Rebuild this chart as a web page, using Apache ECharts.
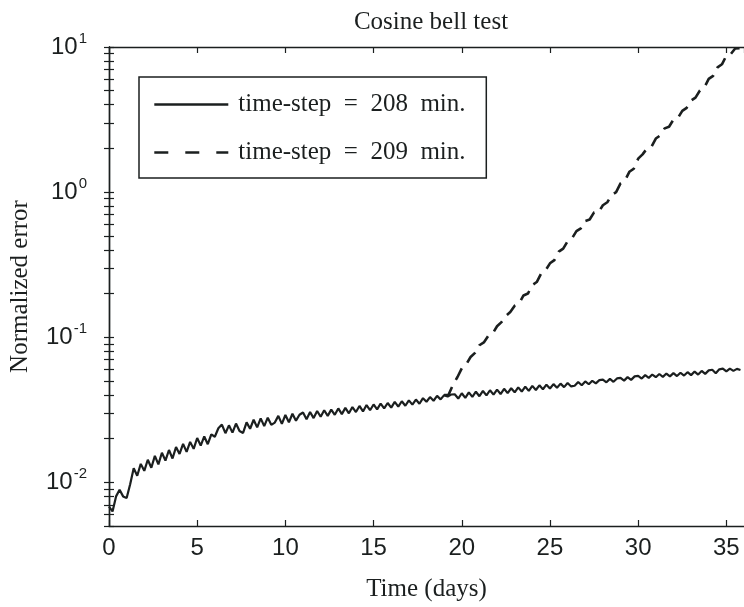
<!DOCTYPE html>
<html>
<head>
<meta charset="utf-8">
<script src="https://cdn.jsdelivr.net/npm/echarts@6/dist/echarts.min.js"></script>
<style>
  html, body { margin: 0; padding: 0; background: #ffffff; }
  #chart { width: 744px; height: 607px; }
</style>
</head>
<body>
<div id="chart"></div>
<script>
// Normalized error, time-step = 208 min: one reading every 0.2 day from day 0.
const startDay208 = 0;
const stepDays208 = 0.2;
const err208 = [
  0.0068, 0.0063, 0.0080, 0.0089, 0.0080,
  0.0078, 0.0097, 0.0125, 0.0111, 0.0134,
  0.0120, 0.0143, 0.0126, 0.0152, 0.0133,
  0.0160, 0.0141, 0.0167, 0.0146, 0.0175,
  0.0157, 0.0184, 0.0162, 0.0190, 0.0170,
  0.0202, 0.0179, 0.0207, 0.0183, 0.0214,
  0.0206, 0.0236, 0.0250, 0.0218, 0.0247,
  0.0220, 0.0254, 0.0226, 0.0219, 0.0259,
  0.0234, 0.0270, 0.0239, 0.0276, 0.0244,
  0.0279, 0.0249, 0.0258, 0.0287, 0.0253,
  0.0291, 0.0259, 0.0297, 0.0266, 0.0292,
  0.0303, 0.0272, 0.0305, 0.0277, 0.0310,
  0.0283, 0.0314, 0.0287, 0.0317, 0.0292,
  0.0323, 0.0295, 0.0326, 0.0299, 0.0330,
  0.0305, 0.0336, 0.0308, 0.0341, 0.0314,
  0.0344, 0.0318, 0.0349, 0.0323, 0.0352,
  0.0327, 0.0358, 0.0332, 0.0362, 0.0337,
  0.0367, 0.0343, 0.0372, 0.0348, 0.0380,
  0.0359, 0.0387, 0.0365, 0.0394, 0.0373,
  0.0399, 0.0390, 0.0403, 0.0404, 0.0378,
  0.0411, 0.0382, 0.0417, 0.0388, 0.0421,
  0.0392, 0.0426, 0.0397, 0.0431, 0.0402,
  0.0435, 0.0406, 0.0441, 0.0412, 0.0445,
  0.0417, 0.0451, 0.0422, 0.0456, 0.0427,
  0.0462, 0.0433, 0.0466, 0.0438, 0.0471,
  0.0443, 0.0475, 0.0449, 0.0479, 0.0453,
  0.0483, 0.0458, 0.0463, 0.0491, 0.0467,
  0.0496, 0.0474, 0.0501, 0.0481, 0.0506,
  0.0510, 0.0489, 0.0516, 0.0493, 0.0520,
  0.0525, 0.0502, 0.0531, 0.0508, 0.0537,
  0.0542, 0.0519, 0.0548, 0.0525, 0.0553,
  0.0530, 0.0558, 0.0533, 0.0562, 0.0537,
  0.0566, 0.0540, 0.0569, 0.0544, 0.0574,
  0.0548, 0.0580, 0.0553, 0.0586, 0.0559,
  0.0591, 0.0597, 0.0565, 0.0601, 0.0608,
  0.0581, 0.0607, 0.0586, 0.0605, 0.0595
];

// Normalized error, time-step = 209 min: one reading every 0.25 day from day 19,
// where it leaves the 208 min run.
const startDay209 = 19;
const stepDays209 = 0.25;
const err209 = [
  0.0399, 0.0401, 0.047, 0.053, 0.061, 0.065, 0.073, 0.078,
  0.088, 0.092, 0.102, 0.106, 0.119, 0.127, 0.140, 0.149,
  0.165, 0.171, 0.194, 0.200, 0.229, 0.240, 0.275, 0.289,
  0.323, 0.340, 0.389, 0.408, 0.458, 0.480, 0.538, 0.563,
  0.632, 0.647, 0.725, 0.726, 0.812, 0.852, 0.955, 1.00,
  1.15, 1.20, 1.38, 1.45, 1.70, 1.82, 2.00, 2.05,
  2.34, 2.46, 2.75, 2.82, 3.16, 3.24, 3.63, 3.81,
  4.27, 4.48, 5.01, 5.26, 6.03, 6.33, 7.24, 7.60,
  8.71, 8.94, 9.77, 9.80
];

const seriesNames = [
  'time-step\u2002=\u2002208\u2002min.',
  'time-step\u2002=\u2002209\u2002min.'
];

// Axis ranges and tick positions
const xRange = [0, 36];
const xTickInterval = 5;
const yRange = [0.005, 10];
const yLabelValues = [0.01, 0.1, 1, 10];
const yLabelExponents = ['-2', '-1', '0', '1'];
const yTickValues = [
  0.005, 0.006, 0.007, 0.008, 0.009,
  0.01, 0.02, 0.03, 0.04, 0.05, 0.06, 0.07, 0.08, 0.09,
  0.1, 0.2, 0.3, 0.4, 0.5, 0.6, 0.7, 0.8, 0.9,
  1, 2, 3, 4, 5, 6, 7, 8, 9, 10
];

function toPairs(values, startDay, stepDays) {
  return values.map((v, i) => [startDay + i * stepDays, v]);
}

const ink = '#1b1f1f';
const serif = '"Liberation Serif", "Times New Roman", serif';
const sans = '"Liberation Sans", Arial, sans-serif';

const tickStyle = { show: true, inside: true, length: 6, lineStyle: { color: ink, width: 1.2 } };
const lineAxis = { show: true, lineStyle: { color: ink, width: 1.4 } };

const chart = echarts.init(document.getElementById('chart'), null, { renderer: 'canvas' });

chart.setOption({
  animation: false,
  backgroundColor: '#ffffff',
  title: {
    text: 'Cosine bell test',
    left: 426,
    top: 5,
    textAlign: 'center',
    textStyle: { fontFamily: serif, fontSize: 25, fontWeight: 'normal', color: ink }
  },
  grid: { left: 105, top: 47, width: 645, height: 489, containLabel: false },
  legend: {
    orient: 'vertical',
    left: 139,
    top: 77,
    padding: [15, 14, 13, 14],
    itemWidth: 74,
    itemHeight: 20,
    itemGap: 23,
    borderColor: ink,
    borderWidth: 1.5,
    backgroundColor: '#ffffff',
    itemStyle: { opacity: 0 },
    lineStyle: { width: 2.6 },
    textStyle: {
      fontFamily: serif, fontSize: 25, color: ink,
      width: 234, lineHeight: 20, padding: [0, 0, 0, 5]
    },
    data: [
      { name: seriesNames[0] },
      { name: seriesNames[1], lineStyle: { type: [14, 17], width: 2.6 } }
    ]
  },
  xAxis: [
    {
      type: 'value', min: xRange[0], max: xRange[1], interval: xTickInterval,
      position: 'bottom',
      name: 'Time (days)', nameLocation: 'middle', nameGap: 51,
      nameTextStyle: { fontFamily: serif, fontSize: 25, color: ink },
      axisLine: lineAxis, axisTick: tickStyle, splitLine: { show: false },
      axisLabel: { fontFamily: sans, fontSize: 24, color: ink, margin: 10, showMaxLabel: false }
    },
    {
      type: 'value', min: xRange[0], max: xRange[1], interval: xTickInterval,
      position: 'top',
      axisLine: lineAxis, axisTick: tickStyle, splitLine: { show: false },
      axisLabel: { show: false }
    }
  ],
  yAxis: [
    {
      type: 'log', logBase: 10, min: yRange[0], max: yRange[1],
      position: 'left',
      name: 'Normalized error', nameLocation: 'middle', nameGap: 76,
      nameTextStyle: { fontFamily: serif, fontSize: 25, color: ink },
      axisLine: lineAxis,
      axisTick: Object.assign({}, tickStyle, { length: 5, customValues: yTickValues }),
      splitLine: { show: false },
      axisLabel: {
        customValues: yLabelValues,
        margin: 22,
        formatter: function (value) {
          let idx = 0, best = Infinity;
          yLabelValues.forEach((v, i) => {
            const d = Math.abs(Math.log10(v) - Math.log10(value));
            if (d < best) { best = d; idx = i; }
          });
          return '{b|10}{e|' + yLabelExponents[idx] + '}';
        },
        rich: {
          b: { fontFamily: sans, fontSize: 24, color: ink },
          e: { fontFamily: sans, fontSize: 15, color: ink, padding: [0, 0, 16, 1] }
        }
      }
    },
    {
      type: 'log', logBase: 10, min: yRange[0], max: yRange[1],
      position: 'right',
      axisLine: lineAxis,
      axisTick: Object.assign({}, tickStyle, { length: 5, customValues: yTickValues }),
      splitLine: { show: false },
      axisLabel: { show: false }
    }
  ],
  series: [
    {
      name: seriesNames[0],
      type: 'line',
      xAxisIndex: 0, yAxisIndex: 0,
      data: toPairs(err208, startDay208, stepDays208),
      showSymbol: false, symbol: 'none',
      lineStyle: { color: ink, width: 2.2, type: 'solid' },
      itemStyle: { color: ink },
      z: 3
    },
    {
      name: seriesNames[1],
      type: 'line',
      xAxisIndex: 0, yAxisIndex: 0,
      data: toPairs(err209, startDay209, stepDays209),
      showSymbol: false, symbol: 'none',
      lineStyle: { color: ink, width: 2.6, type: [13, 8] },
      itemStyle: { color: ink },
      z: 2
    }
  ]
});
</script>
</body>
</html>
